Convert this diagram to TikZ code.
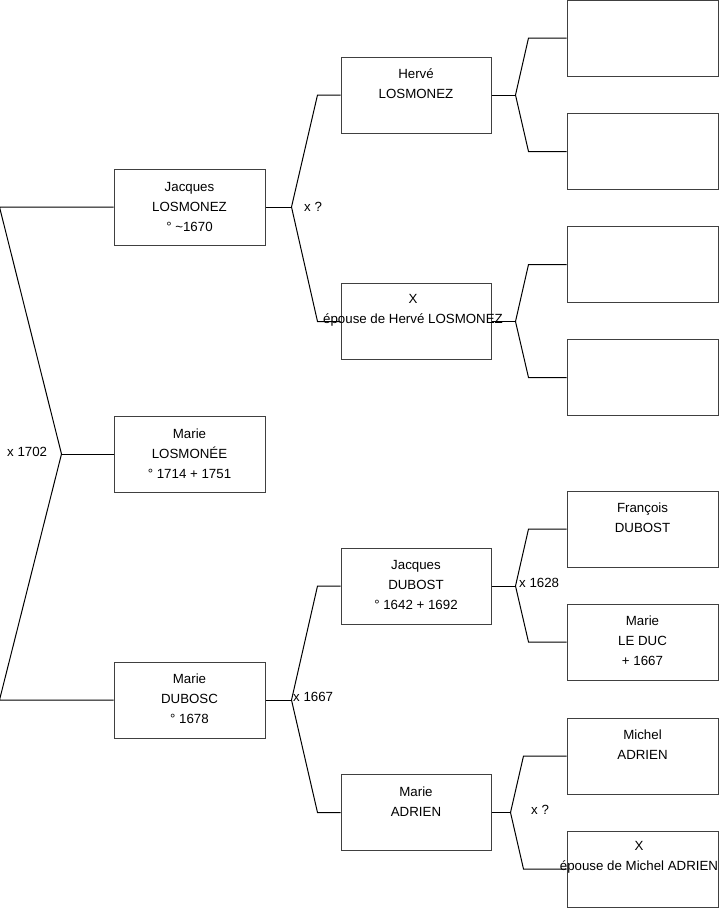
\documentclass[tikz,border=0pt]{standalone}
\usepackage{fontspec}
\setmainfont{Liberation Sans}
\usetikzlibrary{positioning}

\begin{document}
\begin{tikzpicture}[x=1pt, y=-1pt,
			person/.style={rectangle, draw=black!75, line width=1pt, minimum width=151pt, minimum height=76pt, inner sep=0pt},
			ident/.style={align=center, inner sep=0pt, font=\fontsize{13.3}{20}\selectfont},
			link/.style={draw=black, line width=1pt},
			mariage/.style={anchor=west, inner sep=0pt, font=\fontsize{13.3}{20}\selectfont}
			]
			\useasboundingbox (0,0) rectangle (719,908);
			
			% Generation 1
			\node[person] (ml) at (189.5,454) {};
			\node[ident, below=11pt of ml.north] (ml-t) {\rule{0pt}{12pt}Marie\\LOSMONÉE\\° 1714 + 1751};
			
			% Parents
			\node[person, above=170pt of ml] (jl) {};
			\node[ident, below=11pt of jl.north] (jl-t) {\rule{0pt}{12pt}Jacques\\LOSMONEZ\\° \textasciitilde1670};
			\node[person, below=169pt of ml] (md) {};
			\node[ident, below=10pt of md.north] (md-t) {\rule{0pt}{12pt}Marie\\DUBOSC\\° 1678};
			
			% Grands-parents
			\node[person, minimum width=150pt] (hl) at (416,95) {};
			\node[ident, below=10pt of hl.north] (hl-t) {\rule{0pt}{12pt}Hervé\\LOSMONEZ};
			\node[person, minimum width=150pt] (xh) at (416,321.5) {};
			\node[ident, below=8pt of xh.north, xshift=-3pt] (xh-t) {\rule{0pt}{12pt}X\\épouse de Hervé LOSMONEZ};
			\node[person, minimum width=150pt] (jd) at (416,586) {};
			\node[ident, below=10pt of jd.north] (jd-t) {\rule{0pt}{12pt}Jacques\\DUBOST\\° 1642 + 1692};
			\node[person, minimum width=150pt] (ma) at (416,812.5) {};
			\node[ident, below=10pt of ma.north] (ma-t) {\rule{0pt}{12pt}Marie\\ADRIEN};
			
			% Arriere-grands-parents
			\foreach \n/\y in {a/38, b/151.5, c/264.5, d/377.5, e/529, f/642, g/756, h/869} {
				\node[person] (anc-\n) at (642.5,\y) {};
			}
			\node[ident, below=10pt of anc-e.north] (anc-e-t) {\rule{0pt}{12pt}François\\DUBOST};
			\node[ident, below=10pt of anc-f.north] (anc-f-t) {\rule{0pt}{12pt}Marie\\LE DUC\\+ 1667};
			\node[ident, below=10pt of anc-g.north] (anc-g-t) {\rule{0pt}{12pt}Michel\\ADRIEN};
			\node[ident, below=8pt of anc-h.north, xshift=-3.5pt] (anc-h-t) {\rule{0pt}{12pt}X\\épouse de Michel ADRIEN};
			
			% Liens
			\draw[link] (ml.west) -- ++(-52,0) coordinate (j-ml);
			\draw[link] (j-ml) -- ([xshift=-114pt]jl.west) -- (jl.west);
			\draw[link] (j-ml) -- ([xshift=-114pt]md.west) -- (md.west);
			
			\foreach \p/\u/\l in {jl/hl/xh, md/jd/ma} {
				\draw[link] (\p.east) -- ++(26,0) coordinate (j-\p);
				\draw[link] (j-\p) -- ([xshift=-23pt]\u.west) -- (\u.west);
				\draw[link] (j-\p) -- ([xshift=-23pt]\l.west) -- (\l.west);
			}
			
			\foreach \p/\d/\u/\l/\k in {hl/24/a/b/38, xh/24/c/d/38, jd/24/e/f/38, ma/19/g/h/43} {
				\draw[link] (\p.east) -- ++(\d,0) coordinate (j-\p);
				\draw[link] (j-\p) -- ([xshift=-\k pt]anc-\u.west) -- (anc-\u.west);
				\draw[link] (j-\p) -- ([xshift=-\k pt]anc-\l.west) -- (anc-\l.west);
			}
			
			% Mariages
			\node[mariage] (x-ml) at (7,452) {x 1702};
			\node[mariage] (x-jl) at (304,207) {x ?};
			\node[mariage] (x-md) at (293,697) {x 1667};
			\node[mariage] (x-jd) at (519,583) {x 1628};
			\node[mariage] (x-ma) at (531,810) {x ?};
			
		\end{tikzpicture}
\end{document}
